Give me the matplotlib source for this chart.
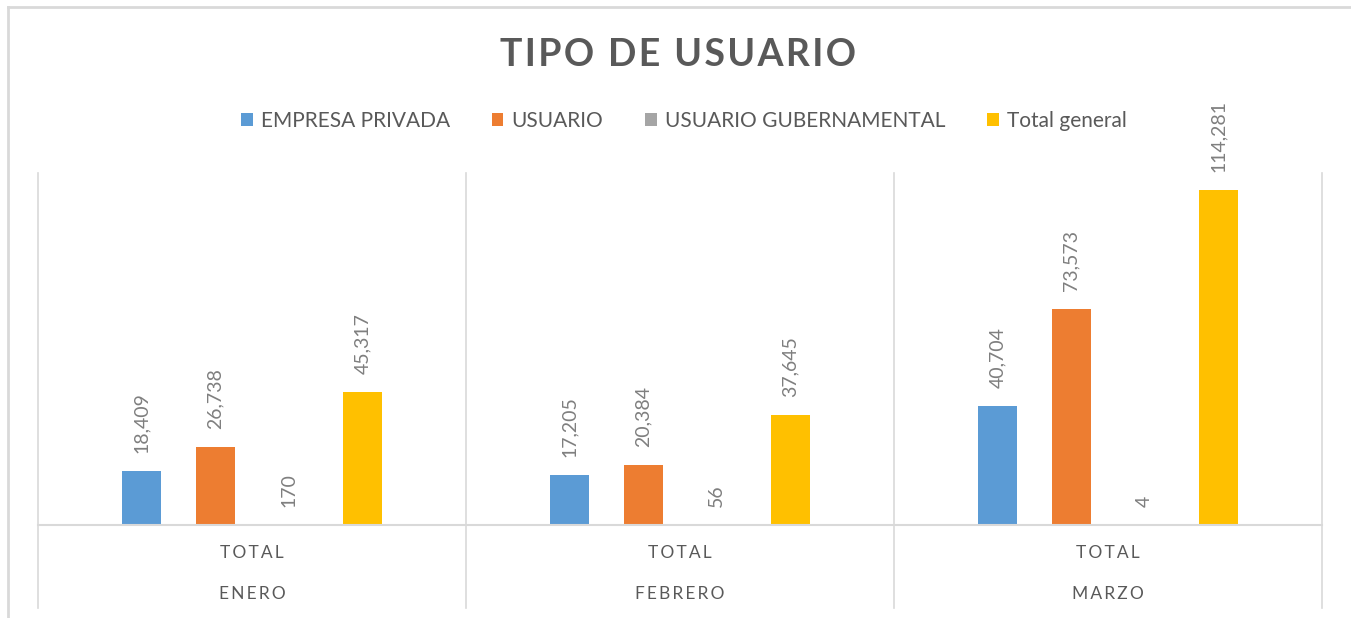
import matplotlib
matplotlib.use("Agg")
import matplotlib.pyplot as plt
from matplotlib.lines import Line2D
import numpy as np

months = ["ENERO", "FEBRERO", "MARZO"]
sub_label = "TOTAL"
series_names = ["EMPRESA PRIVADA", "USUARIO", "USUARIO GUBERNAMENTAL", "Total general"]
empresa_privada = [18409, 17205, 40704]
usuario = [26738, 20384, 73573]
usuario_gub = [170, 56, 4]
total_general = [45317, 37645, 114281]
colors = ["#5B9BD5", "#ED7D31", "#A5A5A5", "#FFC000"]

W, H = 1351, 618
fig = plt.figure(figsize=(W / 100, H / 100), dpi=100)
plt.rcParams['font.family'] = ['Lato', 'DejaVu Sans']

def fx(px):
    return px / W

def fy(py):
    return 1 - py / H

left, right, top, bottom = 38, 1322, 173, 525
ax = fig.add_axes([fx(left), fy(bottom), fx(right - left), (bottom - top) / H])
ax.set_xlim(-0.5, 2.5)
ax.set_ylim(0, 120000)
ax.axis('off')

x = np.arange(len(months))
spacing = 0.1717
width = 0.091
series = [empresa_privada, usuario, usuario_gub, total_general]
handles = []
for i, (vals, c, name) in enumerate(zip(series, colors, series_names)):
    off = (i - 1.5) * spacing
    b = ax.bar(x + off, vals, width=width, color=c, label=name, zorder=2)
    handles.append(b)
    for xi, v in zip(x + off, vals):
        ax.annotate(f"{v:,}", (xi, v), xytext=(0, 18), textcoords='offset pixels',
                    rotation=90, ha='center', va='bottom', fontsize=14,
                    color='#7F7F7F')

gridc = '#D9D9D9'
# axis baseline
fig.add_artist(Line2D([fx(left), fx(right)], [fy(bottom), fy(bottom)], color=gridc, lw=1.5))
# category separators
for i in range(len(months) + 1):
    xp = left + i * (right - left) / len(months)
    fig.add_artist(Line2D([fx(xp), fx(xp)], [fy(top), fy(608)], color=gridc, lw=1.2))

def spaced(s, sep="\u2009"):
    return sep.join(s)

for i, m in enumerate(months):
    xc = left + (i + 0.5) * (right - left) / len(months)
    fig.text(fx(xc), fy(553), spaced(sub_label), ha='center', va='center',
             fontsize=12.5, color='#595959')
    fig.text(fx(xc), fy(594), spaced(m), ha='center', va='center',
             fontsize=12.5, color='#595959')

# outer border
fig.add_artist(Line2D([fx(8), fx(8)], [fy(7), 0], color=gridc, lw=2))
fig.add_artist(Line2D([fx(8), 1], [fy(7), fy(7)], color=gridc, lw=2))

fig.text(fx(678), fy(55), spaced("TIPO DE USUARIO", "\u200a"), ha='center', va='center',
         fontsize=27, fontweight='bold', color='#595959')

fig.legend(handles=handles, labels=series_names, loc='center', ncol=4,
           bbox_to_anchor=(fx(684), fy(121)), frameon=False, fontsize=15,
           handlelength=0.55, handleheight=0.55, handletextpad=0.4,
           columnspacing=2.0, labelcolor='#595959')

fig.savefig("out.png", dpi=100, facecolor='white')
